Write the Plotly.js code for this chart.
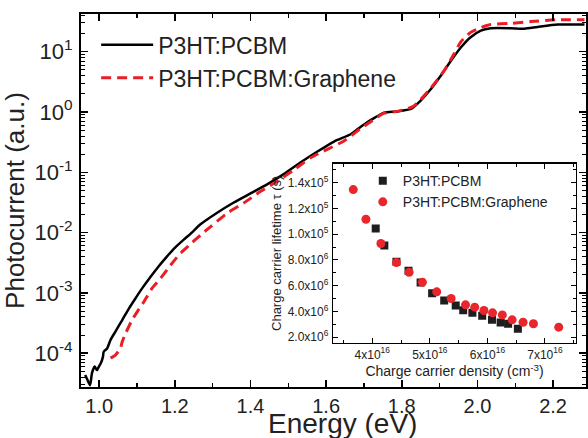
<!DOCTYPE html>
<html>
<head>
<meta charset="utf-8">
<script src="https://cdn.plot.ly/plotly-3.0.1.min.js"></script>
<style>html,body{margin:0;padding:0;background:#fff;}#chart{width:588px;height:438px;}</style>
</head>
<body>
<div id="chart"></div>
<script>
// Main spectrum: P3HT:PCBM (black)
const energyPCBM = [0.963,0.969,0.976,0.981,0.988,0.994,1.001,1.004,1.010,1.012,1.021,1.030,1.043,1.061,1.079,1.096,1.114,1.135,1.157,1.179,1.200,1.223,1.245,1.267,1.312,1.356,1.400,1.444,1.488,1.532,1.576,1.621,1.665,1.690,1.704,1.730,1.753,1.788,1.824,1.850,1.877,1.903,1.930,1.956,1.982,2.009,2.035,2.088,2.124,2.159,2.212,2.283];
const photoPCBM  = [4.37e-5,3.63e-5,2.95e-5,4.68e-5,6.03e-5,5.25e-5,6.31e-5,6.76e-5,8.71e-5,1.06e-4,1.20e-4,1.66e-4,2.29e-4,3.55e-4,5.56e-4,8.13e-4,1.20e-3,1.82e-3,2.75e-3,4.00e-3,5.60e-3,7.59e-3,1.00e-2,1.36e-2,2.14e-2,3.16e-2,4.47e-2,6.31e-2,9.33e-2,0.145,0.219,0.324,0.427,0.56,0.646,0.813,0.977,1.023,1.122,1.549,2.40,3.98,7.08,11.75,17.4,22.4,24.5,24.5,24.0,25.7,28.2,28.2];

// Main spectrum: P3HT:PCBM:Graphene (red dashed)
const energyGraph = [1.030,1.043,1.056,1.061,1.070,1.087,1.101,1.118,1.140,1.162,1.185,1.211,1.238,1.268,1.295,1.338,1.382,1.426,1.471,1.515,1.559,1.603,1.647,1.690,1.718,1.753,1.788,1.832,1.877,1.912,1.938,1.956,1.982,2.009,2.035,2.088,2.141,2.212,2.283];
const photoGraph  = [8.32e-5,9.33e-5,1.20e-4,1.55e-4,2.14e-4,3.55e-4,4.90e-4,7.08e-4,1.20e-3,1.74e-3,2.69e-3,4.27e-3,6.17e-3,9.12e-3,1.26e-2,2.09e-2,3.09e-2,4.79e-2,7.08e-2,0.110,0.174,0.240,0.331,0.525,0.692,0.955,1.023,1.259,2.51,4.84,9.12,14.5,20.9,25.1,28.2,29.5,31.6,33.9,33.9];

// Inset: lifetime vs carrier density
const densPCBM = [4.06e16,4.21e16,4.42e16,4.63e16,4.84e16,5.04e16,5.25e16,5.45e16,5.58e16,5.74e16,5.91e16,6.08e16,6.23e16,6.36e16,6.53e16];
const tauPCBM  = [10.43e-6,9.11e-6,7.85e-6,7.15e-6,6.24e-6,5.41e-6,4.85e-6,4.46e-6,4.10e-6,3.89e-6,3.66e-6,3.35e-6,3.14e-6,3.04e-6,2.65e-6];
const densGraph = [3.67e16,3.89e16,4.15e16,4.42e16,4.64e16,4.87e16,5.12e16,5.37e16,5.62e16,5.78e16,5.94e16,6.09e16,6.26e16,6.43e16,6.62e16,6.80e16,7.24e16];
const tauGraph  = [13.46e-6,11.16e-6,9.27e-6,7.79e-6,7.04e-6,6.27e-6,5.52e-6,5.00e-6,4.51e-6,4.33e-6,4.07e-6,3.89e-6,3.73e-6,3.35e-6,3.16e-6,3.04e-6,2.78e-6];

// Tick labels
const xTickVals = [1.0,1.2,1.4,1.6,1.8,2.0,2.2];
const xTickText = ['1.0','1.2','1.4','1.6','1.8','2.0','2.2'];
const yTickVals = [1e-4,1e-3,1e-2,1e-1,1e0,1e1];
const yTickText = ['10<sup>-4</sup>','10<sup>-3</sup>','10<sup>-2</sup>','10<sup>-1</sup>','10<sup>0</sup>','10<sup>1</sup>'];
const insetXTickVals = [4e16,5e16,6e16,7e16];
const insetXTickText = ['4x10<sup>16</sup>','5x10<sup>16</sup>','6x10<sup>16</sup>','7x10<sup>16</sup>'];
const insetYTickVals = [2e-6,4e-6,6e-6,8e-6,1.0e-5,1.2e-5,1.4e-5];
const insetYTickText = ['2.0x10<sup>6</sup>','4.0x10<sup>6</sup>','6.0x10<sup>6</sup>','8.0x10<sup>6</sup>','1.0x10<sup>5</sup>','1.2x10<sup>5</sup>','1.4x10<sup>5</sup>'];

const seriesNames = ['P3HT:PCBM','P3HT:PCBM:Graphene'];
const xTitle = 'Energy (eV)';
const RED = '#ec1c24';
const FONT = 'Liberation Sans, Arial, Helvetica, sans-serif';

// minor ticks
const yMinor = [];
for (let k = -5; k <= 1; k++) for (let m = 2; m <= 9; m++) yMinor.push(m * Math.pow(10, k));
const xMinor = [0.9,1.1,1.3,1.5,1.7,1.9,2.1,2.3];
const ixMinor = [3.5e16,4.5e16,5.5e16,6.5e16,7.5e16];
const iyMinor = [3e-6,5e-6,7e-6,9e-6,1.1e-5,1.3e-5,1.5e-5];

const traces = [
  {x: energyPCBM, y: photoPCBM, type:'scatter', mode:'lines', name: seriesNames[0],
   line:{color:'#000', width:2.5, shape:'spline', smoothing:0.6}, legend:'legend', xaxis:'x', yaxis:'y'},
  {x: energyGraph, y: photoGraph, type:'scatter', mode:'lines', name: seriesNames[1],
   line:{color:RED, width:3, dash:'10px,6px', shape:'spline', smoothing:0.6}, legend:'legend', xaxis:'x', yaxis:'y'},
  {x: densPCBM, y: tauPCBM, type:'scatter', mode:'markers', name: seriesNames[0],
   marker:{symbol:'square', size:8, color:'#1e1e1e'}, legend:'legend2', xaxis:'x2', yaxis:'y2'},
  {x: densGraph, y: tauGraph, type:'scatter', mode:'markers', name: seriesNames[1],
   marker:{symbol:'circle', size:9, color:'#e8262b'}, legend:'legend2', xaxis:'x2', yaxis:'y2'}
];

const axisCommon = {showline:true, linecolor:'#000', mirror:'allticks', ticks:'inside',
  tickcolor:'#000', showgrid:false, zeroline:false};

const layout = {
  width:588, height:438,
  margin:{l:81, r:2, t:14, b:51},
  paper_bgcolor:'#fff', plot_bgcolor:'#fff',
  font:{family:FONT, color:'#222'},
  showlegend:true,
  xaxis: Object.assign({}, axisCommon, {
    domain:[0,1], anchor:'y', range:[0.952,2.287], linewidth:2, ticklen:7, tickwidth:1.5,
    tickmode:'array', tickvals:xTickVals, ticktext:xTickText, tickfont:{size:20, family:FONT, color:'#222'},
    minor:{tickmode:'array', tickvals:xMinor, ticks:'inside', ticklen:4, tickwidth:1.5, tickcolor:'#000'}
  }),
  yaxis: Object.assign({}, axisCommon, {
    domain:[0,1], anchor:'x', type:'log', range:[-4.56,1.625], linewidth:2, ticklen:7, tickwidth:1.5,
    tickmode:'array', tickvals:yTickVals, ticktext:yTickText, tickfont:{size:22, family:FONT, color:'#222'},
    minor:{tickmode:'array', tickvals:yMinor, ticks:'inside', ticklen:4, tickwidth:1, tickcolor:'#000'},
    ticklabelstandoff:2,
    title:{text:'Photocurrent (a.u.)', font:{size:26, family:FONT, color:'#222'}, standoff:4}
  }),
  xaxis2: Object.assign({}, axisCommon, {
    domain:[0.4996,0.980], anchor:'y2', range:[3.323e16,7.538e16], linewidth:1.5, ticklen:5, tickwidth:1,
    tickmode:'array', tickvals:insetXTickVals, ticktext:insetXTickText, tickfont:{size:12, family:FONT, color:'#222'},
    minor:{tickmode:'array', tickvals:ixMinor, ticks:'inside', ticklen:3, tickwidth:1, tickcolor:'#000'},
    title:{text:'Charge carrier density (cm<sup>-3</sup>)', font:{size:14, family:FONT, color:'#222'}, standoff:1}
  }),
  yaxis2: Object.assign({}, axisCommon, {
    domain:[0.119,0.598], anchor:'x2', range:[1.58e-6,1.545e-5], linewidth:1.5, ticklen:5, tickwidth:1,
    tickmode:'array', tickvals:insetYTickVals, ticktext:insetYTickText, tickfont:{size:12, family:FONT, color:'#222'},
    minor:{tickmode:'array', tickvals:iyMinor, ticks:'inside', ticklen:3, tickwidth:1, tickcolor:'#000'},
    ticklabelstandoff:1,
    title:{text:'Charge carrier lifetime τ (s)', font:{size:13, family:FONT, color:'#222'}, standoff:3}
  }),
  annotations:[
    {text:xTitle, xref:'paper', yref:'paper', x:0.517, y:-0.098, xanchor:'center', yanchor:'middle',
     showarrow:false, font:{size:28, family:FONT, color:'#222'}}
  ],
  legend:{x:0.03, y:0.975, xanchor:'left', yanchor:'top', bgcolor:'rgba(0,0,0,0)',
    font:{size:23, family:FONT, color:'#222'}, itemwidth:52, tracegroupgap:0},
  legend2:{x:0.558, y:0.595, xanchor:'left', yanchor:'top', bgcolor:'rgba(0,0,0,0)',
    font:{size:14, family:FONT, color:'#222'}, tracegroupgap:0}
};

Plotly.newPlot('chart', traces, layout, {displayModeBar:false, staticPlot:true});
</script>
</body>
</html>
